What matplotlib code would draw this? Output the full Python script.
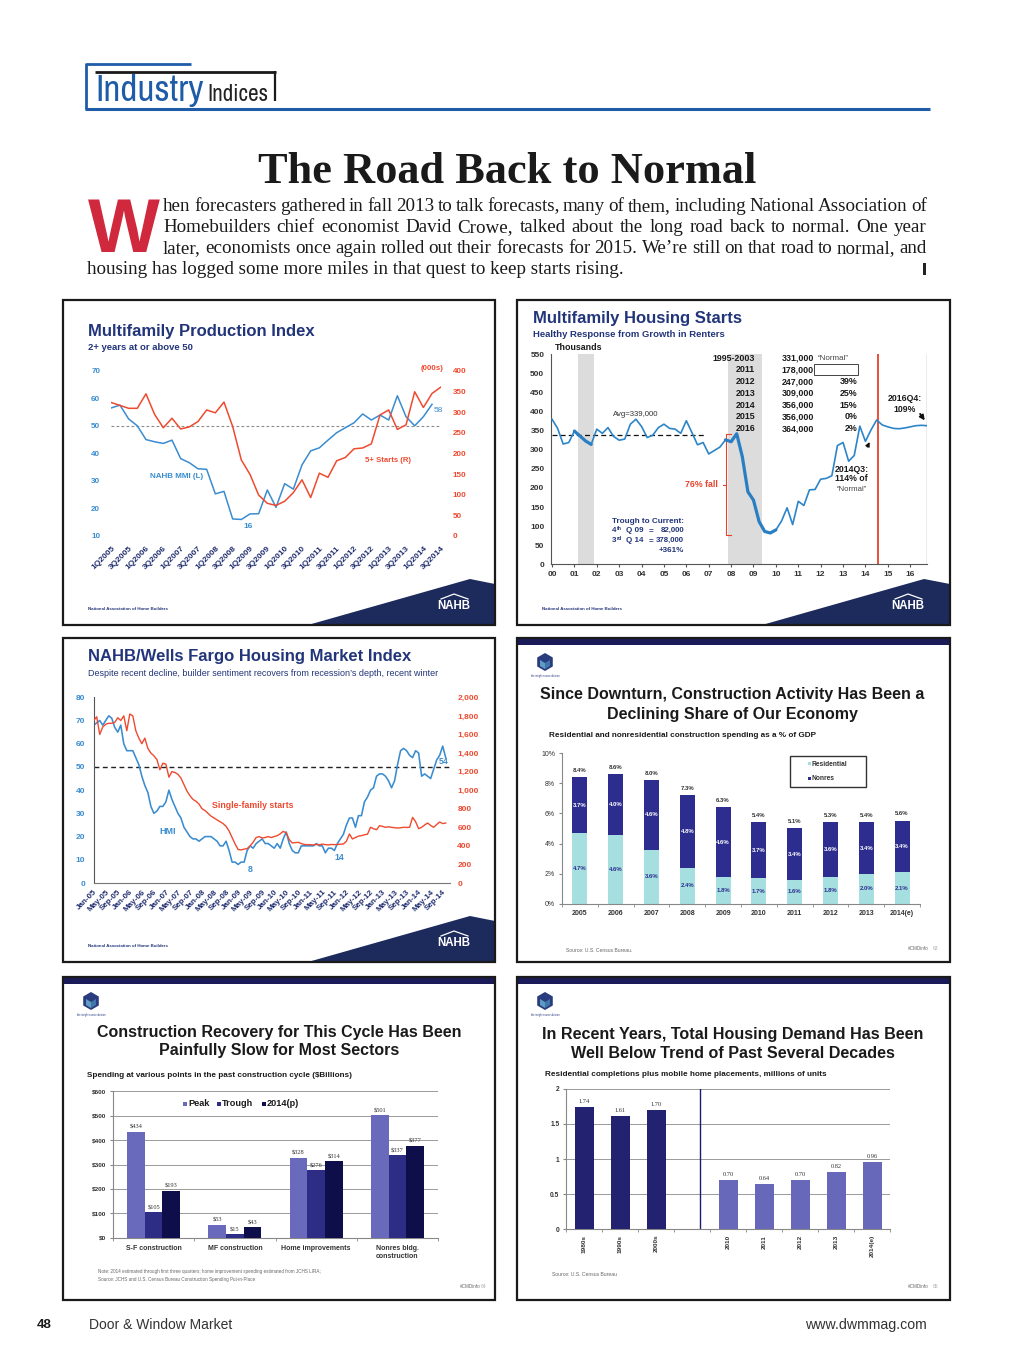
import matplotlib
matplotlib.use('Agg')
import matplotlib.pyplot as plt
from matplotlib.patches import Rectangle, Polygon
from matplotlib import font_manager
import numpy as np

plt.rcParams['font.family'] = ['Liberation Sans', 'DejaVu Sans']
plt.rcParams['axes.linewidth'] = 0.8

# ======================= DATA =======================
# Panel 1: Multifamily Production Index (quarterly from 1Q2005)
mmi_values = [56.5, 57.5, 52.5, 50.0, 45.0, 44.2, 43.6, 44.8, 38.1, 36.6, 34.4, 34.2,
              25.3, 26.2, 16.2, 16.0, 18.0, 18.1, 26.7, 20.4, 29.0, 27.0, 35.8, 40.9,
              42.0, 44.8, 47.5, 49.3, 51.1, 54.3, 52.1, 53.9, 52.1, 60.9, 53.3, 50.0,
              53.3, 57.8]
mf5_starts = [323, 316, 309, 309, 344, 294, 262, 285, 259, 264, 277, 305, 298, 324, 265,
              184, 149, 99, 79, 74, 84, 105, 136, 93, 152, 142, 182, 190, 211, 213, 223,
              293, 305, 258, 269, 349, 311, 345, 360]
mq_labels = ['1Q2005', '3Q2005', '1Q2006', '3Q2006', '1Q2007', '3Q2007', '1Q2008', '3Q2008',
             '1Q2009', '3Q2009', '1Q2010', '3Q2010', '1Q2011', '3Q2011', '1Q2012', '3Q2012',
             '1Q2013', '3Q2013', '1Q2014', '3Q2014']

# Panel 2: Multifamily housing starts, quarterly 2000Q1-2016Q4 (thousands)
mf_starts_q = [380, 356, 315, 319, 349, 336, 323, 314, 354, 343, 358, 335,
               325, 328, 367, 380, 361, 332, 338, 358, 367, 356, 354, 343,
               376, 345, 313, 319, 289, 298, 307, 326, 321, 342, 282, 190,
               168, 112, 86, 82, 90, 113, 148, 104, 165, 154, 195, 196,
               223, 225, 232, 311, 319, 270, 285, 362, 322, 352, 378, 365,
               360, 356, 355, 357, 360, 363, 364, 363]
year_labels = ['00', '01', '02', '03', '04', '05', '06', '07', '08', '09', '10', '11',
               '12', '13', '14', '15', '16']
recessions = [(2001.17, 2001.88), (2007.85, 2009.39)]
table_years = ['1995-2003', '2011', '2012', '2013', '2014', '2015', '2016']
table_vals = ['331,000', '178,000', '247,000', '309,000', '356,000', '356,000', '364,000']
table_pct = ['\u201cNormal\u201d', '', '39%', '25%', '15%', '0%', '2%']
avg_starts = 339
trough_rows = [('4', 'th', 'Q 09', '82,000'), ('3', 'rd', 'Q 14', '378,000')]

# Panel 3: HMI (left) and single-family starts (right), monthly Jan-05..Oct-14
hmi_values = [68, 69, 70, 68, 70, 72, 71, 67, 65, 68, 60, 57,
              57, 57, 54, 51, 46, 42, 39, 33, 30, 31, 33, 33,
              35, 40, 36, 33, 30, 28, 24, 22, 20, 19, 19, 18,
              19, 20, 20, 20, 19, 18, 16, 16, 18, 14, 9, 9,
              8, 9, 9, 14, 16, 15, 17, 18, 19, 17, 17, 16,
              15, 17, 15, 19, 22, 17, 14, 13, 13, 16, 16, 16,
              16, 16, 17, 16, 16, 13, 15, 15, 14, 17, 19, 21,
              25, 28, 28, 24, 29, 29, 35, 37, 40, 41, 46, 47,
              47, 46, 44, 41, 44, 51, 57, 58, 57, 55, 54, 57,
              56, 46, 47, 46, 45, 49, 53, 55, 59, 54]
sf_starts = [1750, 1790, 1600, 1680, 1710, 1720, 1720, 1730, 1780, 1750, 1800, 1640,
             1820, 1800, 1640, 1560, 1500, 1560, 1450, 1400, 1370, 1330, 1220, 1290,
             1280, 1140, 1200, 1190, 1170, 1130, 1060, 990, 940, 900, 880, 850,
             800, 780, 750, 720, 700, 680, 660, 640, 610, 560, 490, 420,
             360, 357, 365, 370, 400, 440, 490, 500, 485, 490, 500, 490,
             500, 510, 530, 556, 540, 467, 431, 435, 438, 425, 415, 413,
             413, 410, 415, 413, 418, 413, 410, 415, 413, 415, 418, 420,
             450, 528, 474, 490, 505, 510, 520, 525, 600, 585, 574, 617,
             610, 600, 605, 600, 595, 592, 595, 600, 598, 600, 707, 660,
             585, 600, 625, 646, 620, 600, 630, 657, 640, 646]
month_labels = ['Jan-05', 'May-05', 'Sep-05', 'Jan-06', 'May-06', 'Sep-06', 'Jan-07', 'May-07',
                'Sep-07', 'Jan-08', 'May-08', 'Sep-08', 'Jan-09', 'May-09', 'Sep-09', 'Jan-10',
                'May-10', 'Sep-10', 'Jan-11', 'May-11', 'Sep-11', 'Jan-12', 'May-12', 'Sep-12',
                'Jan-13', 'May-13', 'Sep-13', 'Jan-14', 'May-14', 'Sep-14']

# Panel 4: construction spending as % of GDP
gdp_years = ['2005', '2006', '2007', '2008', '2009', '2010', '2011', '2012', '2013', '2014(e)']
res_share = [4.7, 4.6, 3.6, 2.4, 1.8, 1.7, 1.6, 1.8, 2.0, 2.1]
nonres_share = [3.7, 4.0, 4.6, 4.8, 4.6, 3.7, 3.4, 3.6, 3.4, 3.4]
total_labels = ['8.4%', '8.6%', '8.0%', '7.3%', '6.3%', '5.4%', '5.1%', '5.3%', '5.4%', '5.6%']

# Panel 5: spending at various points in the cycle ($ billions)
sectors = ['S-F construction', 'MF construction', 'Home improvements', 'Nonres bldg.\nconstruction']
peak_vals = [434, 53, 328, 501]
trough_vals = [105, 15, 276, 337]
p2014_vals = [193, 43, 314, 377]
series5 = ['Peak', 'Trough', '2014(p)']

# Panel 6: completions plus mobile home placements (millions)
decades = ['1980s', '1990s', '2000s']
decade_vals = [1.74, 1.61, 1.70]
recent_years = ['2010', '2011', '2012', '2013', '2014(e)']
recent_vals = [0.70, 0.64, 0.70, 0.82, 0.96]

# ======================= FIGURE =======================
W, H = 1015, 1365
fig = plt.figure(figsize=(W / 100, H / 100), dpi=100)
fig.patch.set_facecolor('white')
page = fig.add_axes([0, 0, 1, 1])
page.set_xlim(0, W)
page.set_ylim(H, 0)
page.axis('off')
renderer = fig.canvas.get_renderer()

SANS = 'Liberation Sans'
SERIF = 'Liberation Serif'
names = sorted({f.name for f in font_manager.fontManager.ttflist})
cond = [n for n in names if ('Condensed' in n or 'Narrow' in n)]
NARROW = cond[0] if cond else SANS

NAVY_T = '#22357a'
BLUE_L = '#3a8cd0'
RED_L = '#ee4a30'
BLUE_H = '#1f5ca8'


def T(x, y, s, size=8, color='#1a1a1a', weight='normal', ha='left', va='center', family=None, **kw):
    if family is None:
        family = [SANS, 'DejaVu Sans']
    return page.text(x, y, s, fontsize=size, color=color, fontweight=weight, ha=ha, va=va,
                     family=family, **kw)


def fit(t, width):
    w = t.get_window_extent(renderer).width
    t.set_fontsize(t.get_fontsize() * width / w)
    return t


def px_axes(x0, y0, x1, y1):
    ax = fig.add_axes([x0 / W, 1 - y1 / H, (x1 - x0) / W, (y1 - y0) / H])
    ax.patch.set_alpha(0)
    return ax


def panel_border(x0, y0, x1, y1):
    page.add_patch(Rectangle((x0, y0), x1 - x0, y1 - y0, fill=False, ec='#1a1a1a', lw=1.6, zorder=5))


def nahb_footer(x0, y1, x1):
    page.add_patch(Polygon([(x0 + 245, y1), (x0 + 407, y1 - 46), (x1, y1 - 41), (x1, y1)],
                           closed=True, fc='#1c2a5c', ec='none'))
    T(x0 + 391, y1 - 19, 'NAHB', 8.3, 'white', 'bold', ha='center')
    page.plot([x0 + 378, x0 + 391, x0 + 405], [y1 - 26, y1 - 31, y1 - 26], color='white', lw=0.9)
    T(x0 + 25, y1 - 16, 'National Association of Home Builders', 3.2, NAVY_T, 'bold')


def cmd_header(x0, y0, x1):
    page.add_patch(Rectangle((x0, y0), x1 - x0, 7, fc='#1b1b5a', ec='none'))
    cx, cy = x0 + 28, y0 + 24
    ang = np.deg2rad(np.arange(30, 390, 60))
    page.add_patch(Polygon(np.c_[cx + 9 * np.cos(ang), cy + 9 * np.sin(ang)], closed=True,
                           fc='#2b3c7e', ec='none'))
    page.add_patch(Polygon([(cx - 5, cy - 2), (cx, cy + 1), (cx, cy + 7), (cx - 5, cy + 4)],
                           closed=True, fc='#5f9cc4', ec='none'))
    page.add_patch(Polygon([(cx + 5, cy - 2), (cx, cy + 1), (cx, cy + 7), (cx + 5, cy + 4)],
                           closed=True, fc='#3f78a8', ec='none'))
    T(cx, cy + 14, 'the insight source division', 1.8, NAVY_T, ha='center')


# ---------------- page header ----------------
page.plot([86, 191], [63.5, 63.5], color=BLUE_H, lw=2, solid_capstyle='butt')
page.plot([86, 86], [63, 109], color=BLUE_H, lw=2, solid_capstyle='butt')
page.plot([95, 276], [72, 72], color='#1a1a1a', lw=2, solid_capstyle='butt')
page.plot([275, 275], [71, 101], color='#1a1a1a', lw=1.6, solid_capstyle='butt')
page.plot([85, 930], [108.5, 108.5], color=BLUE_H, lw=2.2, solid_capstyle='butt')
fit(T(95, 101, 'Industry', 20, BLUE_H, 'bold', va='baseline', family=NARROW), 108)
fit(T(207, 101, 'Indices', 20, '#222222', 'normal', va='baseline', family=NARROW), 61)

fit(T(507.5, 183, 'The Road Back to Normal', 32, '#1a1a1a', 'bold', ha='center', va='baseline',
      family=SERIF), 499)
fit(T(88, 252, 'W', 60, '#d0283c', 'bold', va='baseline'), 72)

para = ["hen forecasters gathered in fall 2013 to talk forecasts, many of them, including National Association of",
        "Homebuilders chief economist David Crowe, talked about the long road back to normal. One year",
        "later, economists once again rolled out their forecasts for 2015. We\u2019re still on that road to normal, and",
        "housing has logged some more miles in that quest to keep starts rising."]
last = fit(T(87, 274, para[3], 12, '#1a1a1a', va='baseline', family=SERIF), 535)
psize = last.get_fontsize()
for line, yb in zip(para[:3], [211, 232, 253]):
    words = line.split(' ')
    ts = [T(0, yb, w, psize, '#1a1a1a', va='baseline', family=SERIF) for w in words]
    ws = [t.get_window_extent(renderer).width for t in ts]
    gap = (927 - 163 - sum(ws)) / (len(words) - 1)
    x = 163
    for t, w in zip(ts, ws):
        t.set_x(x)
        x += w + gap
page.add_patch(Rectangle((923.5, 263), 3, 12, fc='#222222', ec='none'))

# ---------------- page footer ----------------
fit(T(37, 1325, '48', 10, '#1a1a1a', 'bold'), 15)
fit(T(89, 1325, 'Door & Window Market', 9, '#333333'), 143)
fit(T(927, 1325, 'www.dwmmag.com', 9, '#333333', ha='right'), 121)

# ======================= PANEL 1 =======================
panel_border(63, 300, 495, 625)
T(88, 331.5, 'Multifamily Production Index', 12, NAVY_T, 'bold')
T(88, 347.5, '2+ years at or above 50', 6.8, NAVY_T, 'bold')
ax1 = px_axes(111.3, 370.7, 440.7, 536)
ax1.set_xlim(0, len(mf5_starts) - 1)
ax1.set_ylim(10, 70)
ax1r = ax1.twinx()
ax1r.set_ylim(0, 400)
ax1.axhline(50, color='#8c8c8c', lw=0.8, ls=(0, (2.5, 2)))
ax1.plot(np.arange(len(mmi_values)), mmi_values, color=BLUE_L, lw=1.1)
ax1r.plot(np.arange(len(mf5_starts)), mf5_starts, color=RED_L, lw=1.1)
for a in (ax1, ax1r):
    for s in a.spines.values():
        s.set_visible(False)
ax1.set_yticks(range(10, 71, 10), labels=[str(v) for v in range(10, 71, 10)],
               fontsize=5.8, fontweight='bold', color=BLUE_L)
ax1.tick_params(axis='y', length=0, pad=8)
ax1r.set_yticks(range(0, 401, 50), labels=[str(v) for v in range(0, 401, 50)],
                fontsize=5.8, fontweight='bold', color=RED_L)
ax1r.tick_params(axis='y', length=0, pad=8.5)
ax1.set_xticks(range(0, len(mf5_starts), 2), labels=mq_labels, rotation=45, ha='right', va='top',
               rotation_mode='anchor', fontsize=6, fontweight='bold', color='#1f2d6e')
ax1.tick_params(axis='x', length=0, pad=6.5)
T(150, 476, 'NAHB MMI (L)', 5.8, BLUE_L, 'bold')
T(365, 460, '5+ Starts (R)', 5.6, RED_L, 'bold')
T(248, 526, '16', 6, BLUE_L, 'bold', ha='center')
T(438, 410, '58', 6, BLUE_L, ha='center')
T(444, 368, '(000s)', 5.7, RED_L, 'bold', ha='right')
nahb_footer(63, 625, 495)

# ======================= PANEL 2 =======================
panel_border(517, 300, 950, 625)
T(533.5, 318.7, 'Multifamily Housing Starts', 12, NAVY_T, 'bold')
T(533.5, 334.3, 'Healthy Response from Growth in Renters', 6.8, NAVY_T, 'bold')
T(555, 348, 'Thousands', 6.4, '#1a1a1a', 'bold')
ax2 = px_axes(551.3, 354.3, 927, 564.3)
tq = 2000 + np.arange(len(mf_starts_q)) / 4
ax2.set_xlim(2000 - 0.7 / 22.388, tq[-1])
ax2.set_ylim(0, 550)
for a, b in recessions:
    ax2.axvspan(a, b, color='#dcdcdc', lw=0, zorder=0)
ax2.hlines(avg_starts, 2000, 2006.8, colors='#111111', linestyles=(0, (4, 2.5)), lw=0.9, zorder=3)
ax2.plot(tq, mf_starts_q, color='#2c85c8', lw=1.2, zorder=4)
for i0, i1 in [(4, 7), (31, 40)]:
    ax2.plot(tq[i0:i1 + 1], mf_starts_q[i0:i1 + 1], color='#2a7fc2', lw=2.3, zorder=4,
             solid_capstyle='round')
ax2.axvline(2014.57, color='#e8412c', lw=1.3)
ax2.axvline(tq[-1], color='#9a9a9a', lw=1.0)
for s in ['top', 'right']:
    ax2.spines[s].set_visible(False)
for s in ['left', 'bottom']:
    ax2.spines[s].set_color('#555555')
ax2.set_yticks(range(0, 551, 50), labels=[str(v) for v in range(0, 551, 50)],
               fontsize=6, fontweight='bold', color='#333333')
ax2.tick_params(axis='y', length=0, pad=5)
ax2.set_xticks(range(2000, 2017), labels=year_labels, fontsize=6, fontweight='bold', color='#333333')
ax2.tick_params(axis='x', length=2, pad=3, color='#555555')
row_y = [539.5, 509, 478, 448, 417, 386, 355]
for yv, a, b, c in zip(row_y, table_years, table_vals, table_pct):
    ax2.text(2009.07, yv, a, ha='right', va='center', fontsize=6.4, fontweight='bold', color='#1a1a1a')
    ax2.text(2011.70, yv, b, ha='right', va='center', fontsize=6.4, fontweight='bold', color='#1a1a1a')
    if c.endswith('%'):
        ax2.text(2013.64, yv, c, ha='right', va='center', fontsize=6.4, fontweight='bold', color='#1a1a1a')
    elif c:
        ax2.text(2011.85, yv, c, ha='left', va='center', fontsize=5.8, color='#444444')
ax2.add_patch(Rectangle((2011.72, 496), 1.95, 28, fill=False, ec='#444444', lw=0.7, zorder=5))
ax2.text(2003.75, 393, 'Avg=339,000', ha='center', va='center', fontsize=5.6, color='#333333')
ax2.text(2007.40, 208, '76% fall', ha='right', va='center', fontsize=6.3, fontweight='bold', color='#e8412c')
ax2.plot([2008.0, 2007.77, 2007.77, 2008.0], [340, 340, 77, 77], color='#e8412c', lw=0.8)
ax2.plot([2007.62, 2007.77], [208, 208], color='#e8412c', lw=0.8)
ax2.text(2002.69, 113, 'Trough to Current:', ha='left', va='center', fontsize=5.9, fontweight='bold', color=NAVY_T)
for yv, (num, sup, per, val) in zip([88, 62], trough_rows):
    ax2.text(2002.69, yv, num, ha='left', va='center', fontsize=5.8, fontweight='bold', color=NAVY_T)
    ax2.text(2002.90, yv + 5, sup, ha='left', va='center', fontsize=3.8, fontweight='bold', color=NAVY_T)
    ax2.text(2003.30, yv, per, ha='left', va='center', fontsize=5.8, fontweight='bold', color=NAVY_T)
    ax2.text(2004.30, yv, '=', ha='left', va='center', fontsize=5.8, fontweight='bold', color=NAVY_T)
    ax2.text(2005.90, yv, val, ha='right', va='center', fontsize=5.6, fontweight='bold', color=NAVY_T)
ax2.text(2005.90, 36, '+361%', ha='right', va='center', fontsize=5.8, fontweight='bold', color=NAVY_T)
ax2.text(2013.38, 249, '2014Q3:', ha='center', va='center', fontsize=6.3, fontweight='bold', color='#1a1a1a')
ax2.text(2013.38, 224, '114% of', ha='center', va='center', fontsize=6.3, fontweight='bold', color='#1a1a1a')
ax2.text(2013.38, 197, '\u201cNormal\u201d', ha='center', va='center', fontsize=5.6, color='#444444')
ax2.text(2015.77, 433, '2016Q4:', ha='center', va='center', fontsize=6.3, fontweight='bold', color='#1a1a1a')
ax2.text(2015.77, 406, '109%', ha='center', va='center', fontsize=6.3, fontweight='bold', color='#1a1a1a')
ax2.annotate('', xy=(2014.24, 327), xytext=(2014.03, 301),
             arrowprops=dict(arrowstyle='-|>', color='#111111', lw=1.0, mutation_scale=6),
             annotation_clip=False)
ax2.annotate('', xy=(2016.72, 371), xytext=(2016.37, 400),
             arrowprops=dict(arrowstyle='-|>', color='#111111', lw=1.3, mutation_scale=7),
             annotation_clip=False)
nahb_footer(517, 625, 950)

# ======================= PANEL 3 =======================
panel_border(63, 638, 495, 962)
T(88, 657, 'NAHB/Wells Fargo Housing Market Index', 12, NAVY_T, 'bold')
fit(T(88, 673, 'Despite recent decline, builder sentiment recovers from recession\u2019s depth, recent winter',
      5.8, NAVY_T), 347)
ax3 = px_axes(93.7, 697.3, 449.7, 883)
xm = np.arange(len(hmi_values))
ax3.set_xlim(0, (len(hmi_values) - 1) + 4 / 3.009)
ax3.set_ylim(0, 80)
ax3r = ax3.twinx()
ax3r.set_ylim(0, 2000)
ax3.axhline(50, color='#222222', lw=1.0, ls=(0, (3.5, 2.5)))
ax3.plot(xm, hmi_values, color=BLUE_L, lw=1.15)
ax3r.plot(np.arange(len(sf_starts)), sf_starts, color=RED_L, lw=1.0)
for a in (ax3, ax3r):
    for s in ['top', 'right']:
        a.spines[s].set_visible(False)
ax3r.spines['left'].set_visible(False)
ax3r.spines['bottom'].set_visible(False)
ax3.spines['left'].set_color('#555555')
ax3.spines['bottom'].set_color('#777777')
ax3.set_yticks(range(0, 81, 10), labels=[str(v) for v in range(0, 81, 10)],
               fontsize=6, fontweight='bold', color=BLUE_L)
ax3.tick_params(axis='y', length=0, pad=6.3)
ax3r.set_yticks(range(0, 2001, 200), labels=[f'{v:,}' for v in range(0, 2001, 200)],
                fontsize=6, fontweight='bold', color=RED_L)
ax3r.tick_params(axis='y', length=0, pad=5.5)
ax3.set_xticks(range(0, len(hmi_values), 4), labels=month_labels, rotation=45, ha='right', va='top',
               rotation_mode='anchor', fontsize=5.8, fontweight='bold', color='#1f2d6e')
ax3.tick_params(axis='x', length=0, pad=4)
T(212, 805, 'Single-family starts', 6.3, RED_L, 'bold')
T(168, 831, 'HMI', 6.5, BLUE_L, 'bold', ha='center')
T(250, 870, '8', 6.3, BLUE_L, 'bold', ha='center')
T(339, 857, '14', 6.3, BLUE_L, 'bold', ha='center')
T(444, 762, '54', 6.3, BLUE_L, 'bold', ha='center')
nahb_footer(63, 962, 495)

# ======================= PANEL 4 =======================
panel_border(517, 638, 950, 962)
cmd_header(517, 638, 950)
t4 = fit(T(732, 694.5, 'Since Downturn, Construction Activity Has Been a', 11, '#1a1a1a', 'bold', ha='center'), 384)
T(732, 714, 'Declining Share of Our Economy', t4.get_fontsize(), '#1a1a1a', 'bold', ha='center')
fit(T(549, 735.5, 'Residential and nonresidential construction spending as a % of GDP', 5, '#1a1a1a', 'bold'), 270)
ax4 = px_axes(562, 753, 920, 904)
x4 = np.arange(len(gdp_years))
tot = np.array(res_share) + np.array(nonres_share)
ax4.bar(x4, res_share, 0.42, color='#a6dfdf', zorder=2)
ax4.bar(x4, nonres_share, 0.42, bottom=res_share, color='#2d2d8f', zorder=2)
ax4.set_xlim(-0.5, len(gdp_years) - 0.5)
ax4.set_ylim(0, 10)
for s in ['top', 'right']:
    ax4.spines[s].set_visible(False)
for s in ['left', 'bottom']:
    ax4.spines[s].set_color('#888888')
ax4.set_yticks(range(0, 11, 2), labels=[f'{v}%' for v in range(0, 11, 2)], fontsize=5, color='#333333')
ax4.tick_params(axis='y', length=2, pad=3, color='#888888')
ax4.set_xticks(x4, labels=gdp_years, fontsize=5, fontweight='bold', color='#333333')
ax4.set_xticks(np.arange(-0.5, len(gdp_years)), minor=True)
ax4.tick_params(axis='x', which='major', length=0, pad=4)
ax4.tick_params(axis='x', which='minor', length=2, color='#888888')
for i in range(len(gdp_years)):
    ax4.text(x4[i], res_share[i] / 2, f'{res_share[i]:.1f}%', ha='center', va='center',
             fontsize=4.3, fontweight='bold', color='#2d2d8f')
    ax4.text(x4[i], res_share[i] + nonres_share[i] / 2, f'{nonres_share[i]:.1f}%', ha='center',
             va='center', fontsize=4.3, fontweight='bold', color='white')
    ax4.text(x4[i], tot[i] + 0.3, total_labels[i], ha='center', va='bottom', fontsize=4.3,
             fontweight='bold', color='#333333')
page.add_patch(Rectangle((790, 756), 76, 31, fill=False, ec='#333333', lw=1.0))
page.add_patch(Rectangle((808, 762), 3, 3, fc='#a6dfdf', ec='none'))
T(812, 764, 'Residential', 4.8, '#333333', 'bold')
page.add_patch(Rectangle((808, 777), 3, 3, fc='#2d2d8f', ec='none'))
T(812, 779, 'Nonres', 4.8, '#333333', 'bold')
T(566, 950, 'Source: U.S. Census Bureau.', 3.6, '#666666')
T(918, 949, '#CMDinfo', 3.3, '#666666', ha='center')
T(936, 949, '63', 3.6, '#aaaaaa', ha='center')

# ======================= PANEL 5 =======================
panel_border(63, 977, 495, 1300)
cmd_header(63, 977, 495)
t5 = fit(T(279, 1032, 'Construction Recovery for This Cycle Has Been', 11, '#1a1a1a', 'bold', ha='center'), 365)
T(279, 1051, 'Painfully Slow for Most Sectors', t5.get_fontsize(), '#1a1a1a', 'bold', ha='center')
fit(T(87, 1075.5, 'Spending at various points in the past construction cycle ($Billions)', 5, '#1a1a1a', 'bold'), 268)
ax5 = px_axes(113, 1091.3, 438, 1237.7)
x5 = np.arange(len(sectors))
bw = 0.218
cols5 = ['#6a6abd', '#2d2d86', '#0e0e4a']
for k, (vals, col) in enumerate(zip([peak_vals, trough_vals, p2014_vals], cols5)):
    ax5.bar(x5 + (k - 1) * bw, vals, bw, color=col, zorder=3)
    for xi_, v in zip(x5 + (k - 1) * bw, vals):
        ax5.text(xi_, v + 8, f'${v}', ha='center', va='bottom', fontsize=4.6, color='#333333',
                 family=SERIF, zorder=4)
ax5.set_xlim(-0.5, len(sectors) - 0.5)
ax5.set_ylim(0, 600)
ax5.yaxis.grid(True, color='#9a9a9a', lw=0.7)
ax5.set_axisbelow(True)
for s in ['top', 'right']:
    ax5.spines[s].set_visible(False)
for s in ['left', 'bottom']:
    ax5.spines[s].set_color('#888888')
ax5.set_yticks(range(0, 601, 100), labels=[f'${v}' for v in range(0, 601, 100)], fontsize=4.6,
               fontweight='bold', color='#333333')
ax5.tick_params(axis='y', length=2, pad=3, color='#888888')
ax5.set_xticks(x5, labels=sectors, fontsize=5, fontweight='bold', color='#333333', linespacing=1.2)
ax5.set_xticks(np.arange(-0.5, len(sectors)), minor=True)
ax5.tick_params(axis='x', which='major', length=0, pad=5)
ax5.tick_params(axis='x', which='minor', length=2, color='#888888')
lx = [183, 217, 262]
tx = [188, 222, 267]
for sq, tt, name, col in zip(lx, tx, series5, cols5):
    page.add_patch(Rectangle((sq, 1101.5), 4, 4, fc=col, ec='none'))
    T(tt, 1104, name, 6.6, '#1a1a1a', 'bold')
T(98, 1272, 'Note: 2014 estimated through first three quarters; home improvement spending estimated from JCHS LIRA;',
  3.3, '#666666')
T(98, 1280, 'Source: JCHS and U.S. Census Bureau Construction Spending Put-in-Place', 3.3, '#666666')
T(470, 1287, '#CMDinfo', 3.3, '#666666', ha='center')
T(484, 1287, '64', 3.6, '#aaaaaa', ha='center')

# ======================= PANEL 6 =======================
panel_border(517, 977, 950, 1300)
cmd_header(517, 977, 950)
t6 = fit(T(733, 1034, 'In Recent Years, Total Housing Demand Has Been', 11, '#1a1a1a', 'bold', ha='center'), 381)
T(733, 1053, 'Well Below Trend of Past Several Decades', t6.get_fontsize(), '#1a1a1a', 'bold', ha='center')
fit(T(545, 1075, 'Residential completions plus mobile home placements, millions of units', 5, '#1a1a1a', 'bold'), 284)
ax6 = px_axes(566.3, 1088.7, 890.3, 1229.3)
xd = np.arange(len(decades))
xr = np.arange(len(recent_years)) + len(decades) + 1
ax6.bar(xd, decade_vals, 0.53, color='#222270', zorder=3)
ax6.bar(xr, recent_vals, 0.53, color='#6868bb', zorder=3)
for xx, v in list(zip(xd, decade_vals)) + list(zip(xr, recent_vals)):
    ax6.text(xx, v + 0.04, f'{v:.2f}', ha='center', va='bottom', fontsize=4.6, color='#333333',
             family=SERIF)
ax6.axvline(len(decades) + 0.2, color='#1c1c6e', lw=1.0)
ax6.set_xlim(-0.5, len(decades) + len(recent_years) + 0.5)
ax6.set_ylim(0, 2)
ax6.yaxis.grid(True, color='#9a9a9a', lw=0.7)
ax6.set_axisbelow(True)
for s in ['top', 'right']:
    ax6.spines[s].set_visible(False)
for s in ['left', 'bottom']:
    ax6.spines[s].set_color('#888888')
ax6.set_yticks([0, 0.5, 1, 1.5, 2], labels=['0', '0.5', '1', '1.5', '2'], fontsize=4.8,
               fontweight='bold', color='#333333')
ax6.tick_params(axis='y', length=2, pad=3, color='#888888')
ax6.set_xticks(list(xd) + list(xr), labels=decades + recent_years, rotation=90, fontsize=4.6,
               fontweight='bold', color='#333333')
ax6.set_xticks(np.arange(-0.5, len(decades) + len(recent_years) + 1), minor=True)
ax6.tick_params(axis='x', which='major', length=0, pad=4)
ax6.tick_params(axis='x', which='minor', length=2, color='#888888')
T(552, 1275, 'Source: U.S. Census Bureau', 3.6, '#666666')
T(918, 1287, '#CMDinfo', 3.3, '#666666', ha='center')
T(936, 1287, '65', 3.6, '#aaaaaa', ha='center')

fig.savefig('out.png', dpi=100, facecolor='white')
